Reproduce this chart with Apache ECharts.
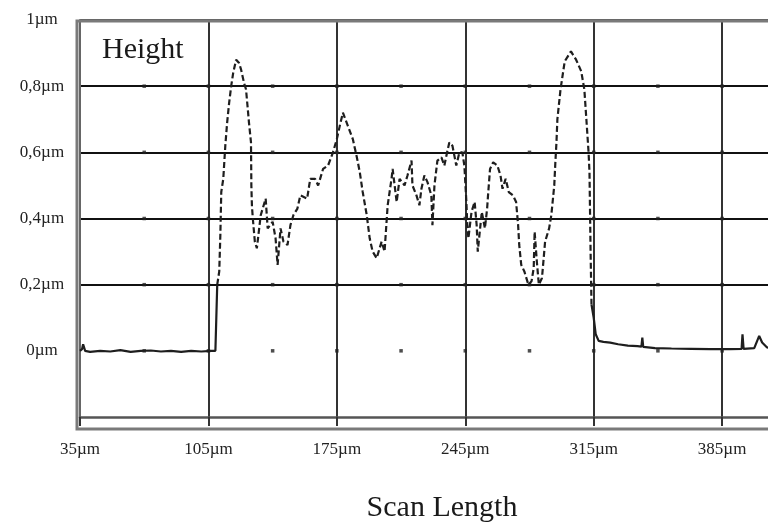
<!DOCTYPE html>
<html>
<head>
<meta charset="utf-8">
<script src="https://cdn.jsdelivr.net/npm/echarts@6/dist/echarts.min.js"></script>
<style>
html,body{margin:0;padding:0;background:#fff;}
#chart{width:768px;height:528px;}
</style>
</head>
<body>
<div id="chart"></div>
<script>
const flatLeftX = [35, 36.1, 36.7, 37.8, 40.5, 46.0, 51.5, 57.0, 62.6, 68.1, 73.6, 79.1, 84.6, 90.1, 95.6, 101.1, 106.6, 108.8, 109.3, 109.8];
const flatLeftY = [0.0, 0.005, 0.02, 0.0, -0.003, 0.0, -0.002, 0.002, -0.003, 0.0, 0.001, -0.002, 0.0, -0.003, 0.0, -0.002, 0.0, 0.0, 0.1, 0.2];

const featureX = [109.8, 110.9, 111.5, 112.0, 113.1, 114.2, 115.2, 116.3, 117.4, 118.5, 120.1, 121.7, 122.8, 124.4, 125.5, 127.1, 128.2, 128.4, 128.7, 129.2,
  130.3, 131.4, 133.5, 136.2, 137.3, 140.0, 141.6, 142.7, 144.3, 145.9, 148.1, 149.7, 151.3, 153.5, 155.1, 158.8, 160.5, 163.1, 164.8, 167.5,
  170.2, 172.9, 175.0, 176.6, 178.3, 181.0, 183.7, 185.9, 187.5, 189.1, 191.3, 192.9, 194.5, 196.7, 199.4, 201.0, 202.7, 204.8, 205.4, 207.6,
  209.2, 211.9, 213.5, 215.7, 216.2, 218.4, 220.0, 221.1, 222.7, 224.4, 226.5, 227.1, 228.2, 229.8, 232.0, 233.6, 234.7, 236.3, 238.0, 240.1,
  241.8, 243.4, 244.5, 245.6, 246.1, 246.7, 248.4, 250.1, 251.2, 251.8, 254.0, 255.7, 256.9, 257.4, 258.5, 260.2, 262.5, 264.2, 265.3, 267.0,
  268.7, 271.0, 272.7, 273.8, 274.4, 275.5, 277.2, 279.4, 281.1, 282.3, 282.8, 284.0, 285.1, 286.8, 288.5, 290.7, 291.9, 293.5, 294.1, 294.7,
  295.2, 296.9, 299.2, 300.9, 302.6, 305.4, 308.2, 309.9, 311.0, 312.2, 312.7, 313.3, 313.8];
const featureY = [0.20, 0.24, 0.35, 0.48, 0.52, 0.62, 0.69, 0.75, 0.80, 0.84, 0.88, 0.87, 0.85, 0.81, 0.79, 0.69, 0.63, 0.50, 0.44, 0.40,
  0.33, 0.31, 0.41, 0.46, 0.37, 0.39, 0.34, 0.26, 0.37, 0.33, 0.32, 0.38, 0.41, 0.43, 0.47, 0.46, 0.52, 0.52, 0.50, 0.55,
  0.56, 0.60, 0.64, 0.68, 0.72, 0.68, 0.64, 0.585, 0.54, 0.48, 0.41, 0.34, 0.30, 0.28, 0.33, 0.30, 0.44, 0.52, 0.55, 0.45,
  0.52, 0.50, 0.53, 0.575, 0.50, 0.47, 0.44, 0.49, 0.53, 0.51, 0.47, 0.38, 0.50, 0.575, 0.585, 0.56, 0.59, 0.63, 0.62, 0.56,
  0.60, 0.60, 0.56, 0.45, 0.38, 0.34, 0.42, 0.45, 0.38, 0.30, 0.42, 0.37, 0.43, 0.47, 0.55, 0.57, 0.56, 0.53, 0.49, 0.52,
  0.48, 0.47, 0.45, 0.38, 0.32, 0.26, 0.24, 0.20, 0.21, 0.25, 0.36, 0.27, 0.20, 0.22, 0.33, 0.37, 0.41, 0.50, 0.57, 0.63,
  0.70, 0.79, 0.875, 0.89, 0.905, 0.88, 0.845, 0.79, 0.70, 0.60, 0.54, 0.30, 0.14];

const flatRightX = [313.8, 315.0, 316.1, 317.7, 320.3, 324.0, 328.3, 333.6, 338.9, 341.0, 341.5, 342.0, 348.4, 357.4, 368.0, 378.6, 389.2, 395.6, 396.1, 396.7, 402.5, 404.1, 405.2, 406.8, 409.5, 413.2];
const flatRightY = [0.14, 0.10, 0.05, 0.03, 0.027, 0.025, 0.02, 0.016, 0.014, 0.013, 0.04, 0.012, 0.008, 0.007, 0.006, 0.005, 0.005, 0.006, 0.05, 0.006, 0.008, 0.03, 0.045, 0.025, 0.01, 0.008];

// axis ticks
const xMin = 35, xMax = 410, xStep = 70;
const yMin = -0.2, yMax = 1.0, yStep = 0.2;
const dotX = [70, 105, 140, 175, 210, 245, 280, 315, 350, 385];
const dotY = [0, 0.2, 0.4, 0.6, 0.8];

const pairs = (xs, ys) => xs.map((x, i) => [x, ys[i]]);
const dots = [];
dotY.forEach(y => dotX.forEach(x => dots.push([x, y])));

const FONT = '"Liberation Serif", "Times New Roman", serif';
const V = '#333';
const chart = echarts.init(document.getElementById('chart'));
chart.setOption({
  animation: false,
  backgroundColor: '#fff',
  grid: { left: 80, top: 20, right: 0, height: 400, show: false },
  graphic: [
    { type: 'rect', silent: true, z: 100,
      shape: { x: 77, y: 21, width: 760, height: 408 },
      style: { fill: 'none', stroke: '#7a7a7a', lineWidth: 3 } },
    { type: 'text', silent: true, x: 102, y: 35,
      style: { text: 'Height', fontFamily: FONT, fontSize: 30, fill: '#1a1a1a', align: 'left', verticalAlign: 'top' } }
  ],
  xAxis: {
    type: 'value', min: xMin, max: xMax, interval: xStep,
    name: 'Scan Length', nameLocation: 'middle', nameGap: 76,
    nameTextStyle: { fontFamily: FONT, fontSize: 30, color: '#1a1a1a', padding: [0, 0, 0, 36] },
    axisLine: { show: true, onZero: false, lineStyle: { color: '#555', width: 2.5 } },
    axisTick: { show: true, inside: false, length: 9,
      lineStyle: { color: V, width: 2 } },
    axisLabel: { margin: 24, fontFamily: FONT, fontSize: 17, color: '#222', showMaxLabel: false,
      formatter: v => v + 'µm' },
    splitLine: { show: true, showMaxLine: false, lineStyle: { color: V, width: 2 } }
  },
  yAxis: {
    type: 'value', min: yMin, max: yMax, interval: yStep,
    axisLine: { show: true, onZero: false, lineStyle: { color: '#666', width: 2 } },
    axisTick: { show: false },
    axisLabel: { margin: 38, align: 'center', fontFamily: FONT, fontSize: 17, color: '#222',
      formatter: v => v < -0.1 ? '' : (Math.round(v * 10) / 10).toString().replace('.', ',') + 'µm' },
    splitLine: { show: true, showMinLine: true, showMaxLine: true,
      lineStyle: { color: ['rgba(0,0,0,0)', 'rgba(0,0,0,0)', '#111', '#111', '#111', '#111', '#555'], width: 1.8 } }
  },
  series: [
    { type: 'scatter', data: dots, symbol: 'rect', symbolSize: 3.5, silent: true, z: 1,
      itemStyle: { color: '#222' } },
    { type: 'line', data: pairs(flatLeftX, flatLeftY), showSymbol: false, z: 3,
      lineStyle: { color: '#1e1e1e', width: 2.2 } },
    { type: 'line', data: pairs(featureX, featureY), showSymbol: false, z: 3,
      lineStyle: { color: '#1e1e1e', width: 2.2, type: [6, 3] } },
    { type: 'line', data: pairs(flatRightX, flatRightY), showSymbol: false, z: 3,
      lineStyle: { color: '#1e1e1e', width: 2.2 } }
  ]
});
</script>
</body>
</html>
